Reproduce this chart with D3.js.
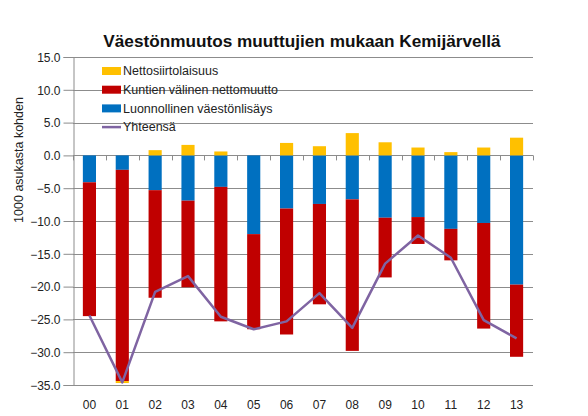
<!DOCTYPE html>
<html>
<head>
<meta charset="utf-8">
<script src="https://cdn.jsdelivr.net/npm/d3@7"></script>
<style>
  body { margin: 0; background: #fff; }
  text { font-family: "Liberation Sans", Arial, sans-serif; }
</style>
</head>
<body>
<div class="chart"></div>
<script>
// data (per 1000 inhabitants)
var years = ['00', '01', '02', '03', '04', '05', '06', '07', '08', '09', '10', '11', '12', '13'];
var netMigration = [0, -0.3, 0.8, 1.6, 0.6, 0, 1.9, 1.4, 3.4, 2.0, 1.2, 0.5, 1.2, 2.7];
var municipalMigration = [-20.4, -32.2, -16.4, -13.2, -20.5, -14.5, -19.2, -15.3, -23.1, -9.1, -4.1, -4.8, -16.1, -11.0];
var naturalIncrease = [-4.1, -2.2, -5.3, -6.9, -4.8, -12.0, -8.1, -7.4, -6.7, -9.5, -9.4, -11.2, -10.3, -19.7];
var total = [-24.4, -34.6, -20.8, -18.4, -24.6, -26.5, -25.3, -21.0, -26.3, -16.5, -12.2, -15.6, -25.1, -27.9];
var yTicks = [15, 10, 5, 0, -5, -10, -15, -20, -25, -30, -35];

var W = 588, H = 416;
var margin = { left: 73, right: 55, top: 57, bottom: 31 };

var svg = d3.select('.chart').append('svg')
            .attr('width', W)
            .attr('height', H);

var x = d3.scaleBand()
          .domain(years)
          .range([margin.left, W - margin.right])
          .paddingInner(0.6)
          .paddingOuter(0.3);

var xOuter = d3.scaleBand()
          .domain(years)
          .range([margin.left, W - margin.right]);

var y = d3.scaleLinear()
          .domain([-35, 15])
          .range([H - margin.bottom, margin.top]);

// gridlines
svg.append('g')
   .selectAll('line')
   .data(yTicks)
   .enter()
   .append('line')
   .attr('x1', margin.left)
   .attr('x2', W - margin.right)
   .attr('y1', function(d) { return Math.round(y(d)) + 0.5; })
   .attr('y2', function(d) { return Math.round(y(d)) + 0.5; })
   .attr('stroke', '#8c8c8c')
   .attr('stroke-width', 1);

// y axis
var yAxis = svg.append('g')
   .attr('transform', 'translate(' + (margin.left + 0.5) + ',0)')
   .call(d3.axisLeft(y).tickValues(yTicks).tickFormat(d3.format('.1f')).tickSize(10).tickPadding(3));
yAxis.select('.domain').attr('stroke', '#8c8c8c');
yAxis.selectAll('.tick line').attr('stroke', '#8c8c8c');
yAxis.selectAll('.tick text')
     .attr('fill', '#222')
     .style('font-size', '12px')
     .attr('dy', '0.35em');

// stacked segments: negative values stack downward, positive upward
var series = [
  { name: 'Luonnollinen väestönlisäys', color: '#0070C0', values: naturalIncrease },
  { name: 'Kuntien välinen nettomuutto', color: '#C00000', values: municipalMigration },
  { name: 'Nettosiirtolaisuus', color: '#FFC000', values: netMigration }
];

var segments = [];
years.forEach(function(yr, i) {
  var pos = 0, neg = 0;
  series.forEach(function(s) {
    var v = s.values[i];
    if (v >= 0) {
      segments.push({ year: yr, y0: pos, y1: pos + v, color: s.color });
      pos += v;
    } else {
      segments.push({ year: yr, y0: neg + v, y1: neg, color: s.color });
      neg += v;
    }
  });
});

svg.append('g')
   .selectAll('rect')
   .data(segments)
   .enter()
   .append('rect')
   .attr('x', function(d) { return x(d.year); })
   .attr('width', x.bandwidth())
   .attr('y', function(d) { return y(d.y1); })
   .attr('height', function(d) { return y(d.y0) - y(d.y1); })
   .attr('fill', function(d) { return d.color; });

// category ticks on zero line
svg.append('g')
   .selectAll('line')
   .data(years.concat(['end']))
   .enter()
   .append('line')
   .attr('x1', function(d, i) { return Math.round(margin.left + i * xOuter.step()) + 0.5; })
   .attr('x2', function(d, i) { return Math.round(margin.left + i * xOuter.step()) + 0.5; })
   .attr('y1', y(0))
   .attr('y2', y(0) + 5)
   .attr('stroke', '#8c8c8c');

// x labels
svg.append('g')
   .selectAll('text')
   .data(years)
   .enter()
   .append('text')
   .attr('x', function(d) { return xOuter(d) + xOuter.bandwidth() / 2; })
   .attr('y', H - 7)
   .attr('text-anchor', 'middle')
   .attr('fill', '#222')
   .style('font-size', '12px')
   .text(function(d) { return d; });

// total line
var line = d3.line()
             .x(function(d, i) { return x(years[i]) + x.bandwidth() / 2; })
             .y(function(d) { return y(d); });

svg.append('path')
   .datum(total)
   .attr('d', line)
   .attr('fill', 'none')
   .attr('stroke', '#7F64A2')
   .attr('stroke-width', 2.5)
   .attr('stroke-linejoin', 'round');

// title
svg.append('text')
   .attr('x', 302)
   .attr('y', 47)
   .attr('text-anchor', 'middle')
   .style('font-size', '17.2px')
   .style('font-weight', 'bold')
   .attr('fill', '#111')
   .text('Väestönmuutos muuttujien mukaan Kemijärvellä');

// y label
svg.append('text')
   .attr('transform', 'translate(23,160) rotate(-90)')
   .attr('text-anchor', 'middle')
   .style('font-size', '12.5px')
   .attr('fill', '#222')
   .text('1000 asukasta kohden');

// legend
var legendItems = [
  { name: 'Nettosiirtolaisuus', color: '#FFC000', type: 'rect' },
  { name: 'Kuntien välinen nettomuutto', color: '#C00000', type: 'rect' },
  { name: 'Luonnollinen väestönlisäys', color: '#0070C0', type: 'rect' },
  { name: 'Yhteensä', color: '#7F64A2', type: 'line' }
];

var legend = svg.append('g')
   .selectAll('g')
   .data(legendItems)
   .enter()
   .append('g')
   .attr('transform', function(d, i) { return 'translate(102,' + (71 + i * 18.7) + ')'; });

legend.filter(function(d) { return d.type === 'rect'; })
      .append('rect')
      .attr('x', 0).attr('y', -4)
      .attr('width', 19).attr('height', 8)
      .attr('fill', function(d) { return d.color; });

legend.filter(function(d) { return d.type === 'line'; })
      .append('line')
      .attr('x1', 0).attr('x2', 19)
      .attr('stroke', function(d) { return d.color; })
      .attr('stroke-width', 2.5);

legend.append('text')
      .attr('x', 21)
      .attr('dy', '0.35em')
      .style('font-size', '12.5px')
      .attr('fill', '#222')
      .text(function(d) { return d.name; });
</script>
</body>
</html>
